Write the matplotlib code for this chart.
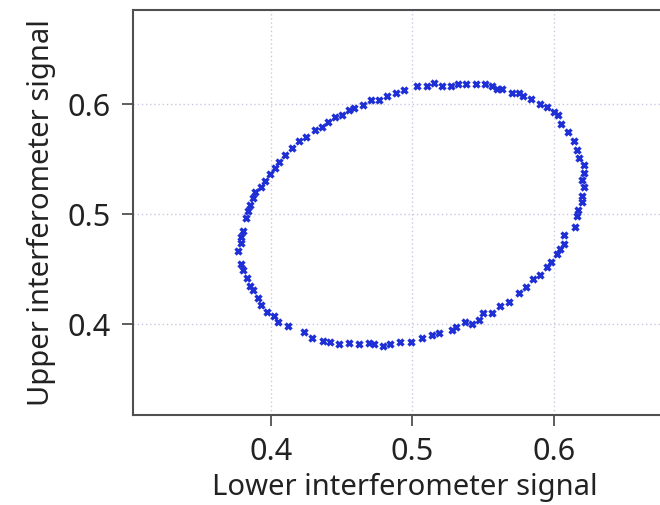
import matplotlib
matplotlib.use("Agg")
import matplotlib.pyplot as plt

# readings around the loop (lower signal, upper signal)
lower = [0.377, 0.379, 0.379, 0.380, 0.382, 0.384, 0.385, 0.387, 0.389, 0.393,
         0.396, 0.399, 0.403, 0.406, 0.410, 0.415, 0.420, 0.425, 0.431, 0.436,
         0.440, 0.445, 0.450, 0.455, 0.459, 0.465, 0.471, 0.476, 0.482, 0.488,
         0.494, 0.503, 0.510, 0.515, 0.521, 0.527, 0.532, 0.538, 0.545, 0.551,
         0.556, 0.560, 0.563, 0.570, 0.575, 0.578, 0.584, 0.590, 0.595, 0.600,
         0.603, 0.605, 0.610, 0.614, 0.616, 0.618, 0.621, 0.621, 0.620, 0.621,
         0.620, 0.620, 0.617, 0.616, 0.615, 0.607, 0.607, 0.604, 0.602, 0.598,
         0.595, 0.590, 0.585, 0.580, 0.575, 0.568, 0.562, 0.556, 0.550, 0.547,
         0.542, 0.537, 0.531, 0.528, 0.519, 0.514, 0.507, 0.499, 0.491, 0.484,
         0.479, 0.473, 0.469, 0.462, 0.455, 0.448, 0.442, 0.437, 0.429, 0.423,
         0.412, 0.405, 0.402, 0.397, 0.393, 0.391, 0.387, 0.385, 0.383, 0.380,
         0.379]
upper = [0.466, 0.474, 0.479, 0.485, 0.496, 0.503, 0.508, 0.515, 0.520, 0.525,
         0.530, 0.536, 0.542, 0.547, 0.554, 0.560, 0.566, 0.570, 0.576, 0.579,
         0.584, 0.588, 0.590, 0.595, 0.596, 0.599, 0.604, 0.604, 0.607, 0.610,
         0.613, 0.616, 0.616, 0.619, 0.616, 0.616, 0.618, 0.618, 0.618, 0.618,
         0.616, 0.614, 0.614, 0.610, 0.610, 0.607, 0.605, 0.600, 0.597, 0.593,
         0.590, 0.582, 0.575, 0.566, 0.558, 0.551, 0.545, 0.537, 0.531, 0.525,
         0.516, 0.511, 0.504, 0.498, 0.488, 0.481, 0.473, 0.468, 0.464, 0.456,
         0.452, 0.445, 0.441, 0.434, 0.428, 0.420, 0.416, 0.410, 0.410, 0.404,
         0.400, 0.402, 0.397, 0.395, 0.392, 0.390, 0.387, 0.384, 0.384, 0.382,
         0.380, 0.382, 0.383, 0.382, 0.383, 0.382, 0.384, 0.385, 0.387, 0.393,
         0.398, 0.402, 0.407, 0.411, 0.417, 0.424, 0.431, 0.435, 0.442, 0.449,
         0.455]
ticks = [0.4, 0.5, 0.6]

plt.rcParams['font.family'] = ['Noto Sans', 'DejaVu Sans']

fig = plt.figure(figsize=(6.6, 5.05), dpi=100)
# right edge of the frame runs off the picture
ax = fig.add_axes([133 / 660, 90 / 505, 562.5 / 660, 405 / 505])
ax.plot(lower, upper, linestyle='none', marker='x', color='#1f2fd6',
        markersize=5, markeredgewidth=2.4)

ax.set_xlim(0.3025, 0.70)
ax.set_ylim(0.3173, 0.6855)
ax.set_xticks(ticks)
ax.set_yticks(ticks)
ax.set_xticklabels(['0.4', '0.5', '0.6'])
ax.set_yticklabels(['0.4', '0.5', '0.6'])
ax.grid(True, linestyle=(0, (1, 2)), color='#c8c8e6', linewidth=1)
ax.set_axisbelow(True)

for side in ['left', 'bottom', 'top', 'right']:
    ax.spines[side].set_color('#505050')
    ax.spines[side].set_linewidth(1.5)
ax.tick_params(direction='out', length=8, width=1.3, color='#505050',
               labelsize=22, pad=8, labelcolor='#222222')

ax.set_xlabel('Lower interferometer signal', fontsize=21, color='#222222')
ax.set_ylabel('Upper interferometer signal', fontsize=21, color='#222222', labelpad=8)
# the frame is wider than the picture, so centre the x label on the visible part
ax.xaxis.set_label_coords(0.4836, -0.143)

fig.savefig('out.png', dpi=100)
